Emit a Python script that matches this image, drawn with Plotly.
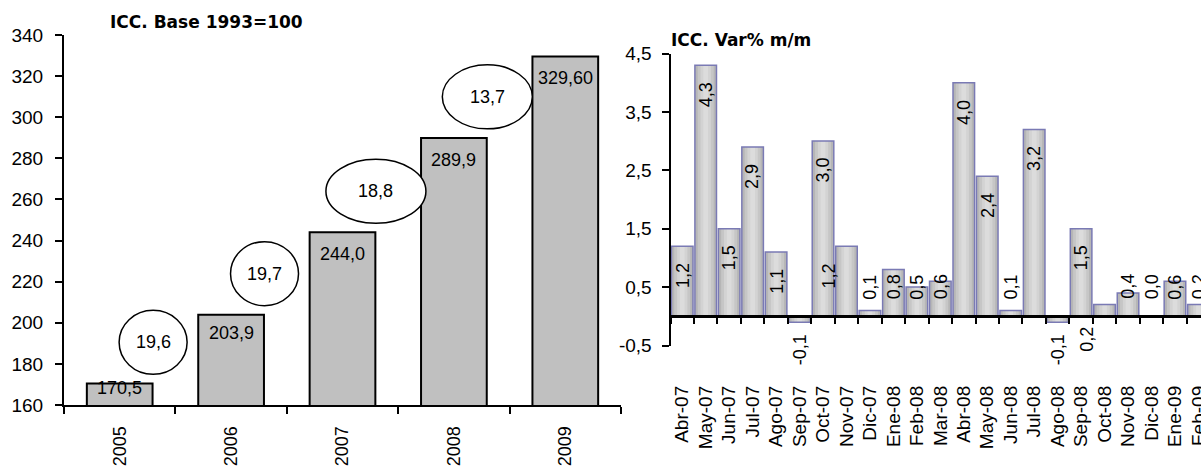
import plotly.graph_objects as go

# ---------------- data ----------------
years = ["2005", "2006", "2007", "2008", "2009"]
icc_index = [170.5, 203.9, 244.0, 289.9, 329.6]
icc_index_labels = ["170,5", "203,9", "244,0", "289,9", "329,60"]
growth_pct_labels = ["19,6", "19,7", "18,8", "13,7"]

months = ["Abr-07", "May-07", "Jun-07", "Jul-07", "Ago-07", "Sep-07", "Oct-07",
          "Nov-07", "Dic-07", "Ene-08", "Feb-08", "Mar-08", "Abr-08", "May-08",
          "Jun-08", "Jul-08", "Ago-08", "Sep-08", "Oct-08", "Nov-08", "Dic-08",
          "Ene-09", "Feb-09"]
var_mm = [1.2, 4.3, 1.5, 2.9, 1.1, -0.1, 3.0, 1.2, 0.1, 0.8, 0.5, 0.6, 4.0, 2.4,
          0.1, 3.2, -0.1, 1.5, 0.2, 0.4, 0.0, 0.6, 0.2]
# in the original some labels are drawn one category to the left
displaced_labels = {"Nov-07": ("Oct-07", "inside"), "Oct-08": ("Sep-08", "below")}

left_ticks = list(range(160, 341, 20))
right_ticks = [-0.5, 0.5, 1.5, 2.5, 3.5, 4.5]

# ---------------- layout constants ----------------
W, H = 1201, 468
LX = [64 / W, 621 / W]
LY = [(H - 405) / H, (H - 35) / H]
RX = [670.5 / W, 1.0]
RY = [(H - 345.5) / H, (H - 53.5) / H]
R_RANGE = [-0.5, 22.11]
zero_frac = RY[0] + (0 - right_ticks[0]) / (right_ticks[-1] - right_ticks[0]) * (RY[1] - RY[0])
NUM = "Liberation Sans"
TITLE = "DejaVu Sans"
BUBBLE_OFFSET = 20  # bubble sits this many index points above the earlier bar


def fmt(v, d=1):
    return f"{v:.{d}f}".replace(".", ",")


fig = go.Figure()

# ---- left chart ----
fig.add_trace(go.Bar(x=years, y=icc_index, xaxis="x", yaxis="y", width=0.59,
                     marker=dict(color="#c0c0c0", line=dict(color="black", width=2)),
                     hoverinfo="skip"))

ppu_left = (LY[1] - LY[0]) * H / (left_ticks[-1] - left_ticks[0])
annotations = []
for i, (v, t) in enumerate(zip(icc_index, icc_index_labels)):
    shift = min(22, 0.2 * (v - left_ticks[0]) * ppu_left)
    annotations.append(dict(x=i, y=v, xref="x", yref="y", text=t, showarrow=False,
                            yanchor="middle", yshift=-shift,
                            font=dict(family=NUM, size=18, color="black")))

shapes = []
bubble_w = [68, 68, 100, 90]
for i, t in enumerate(growth_pct_labels):
    cx = i + 0.3
    cy = icc_index[i] + BUBBLE_OFFSET
    shapes.append(dict(type="circle", xref="x", yref="y", xsizemode="pixel", ysizemode="pixel",
                       xanchor=cx, yanchor=cy, x0=-bubble_w[i] / 2, x1=bubble_w[i] / 2,
                       y0=-32, y1=32, line=dict(color="black", width=1.5), fillcolor="white",
                       layer="above"))
    annotations.append(dict(x=cx, y=cy, xref="x", yref="y", text=t, showarrow=False,
                            font=dict(family=NUM, size=18, color="black")))

# ---- right chart ----
layers = [(0.92, "#b6b6b6"), (0.68, "#c6c6c6"), (0.44, "#d3d3d3"), (0.2, "#dcdcdc")]
for w, c in layers:
    fig.add_trace(go.Bar(x=months, y=var_mm, xaxis="x2", yaxis="y2", width=w,
                         marker=dict(color=c, line=dict(width=0)), hoverinfo="skip"))
fig.add_trace(go.Bar(x=months, y=var_mm, xaxis="x2", yaxis="y2", width=0.92,
                     marker=dict(color="rgba(0,0,0,0)", line=dict(color="#7a7ab4", width=1.5)),
                     hoverinfo="skip"))
# helper trace carrying the zero-line axis
fig.add_trace(go.Scatter(x=[R_RANGE[0], R_RANGE[1]], y=[0, 0], xaxis="x3", yaxis="y2",
                         mode="lines", line=dict(width=0), hoverinfo="skip"))

for m, v in zip(months, var_mm):
    txt = fmt(v)
    xpos = months.index(m)
    if m in displaced_labels:
        target, mode = displaced_labels[m]
        xpos = months.index(target) + 0.25
        if mode == "inside":
            y, ya, ys = v, "top", -15
        else:
            y, ya, ys = 0, "top", -8
    elif v < 0:
        y, ya, ys = v, "top", -10
    elif v < 1.0:
        y, ya, ys = 0, "bottom", 15
    else:
        y, ya, ys = v, "top", -15
    annotations.append(dict(x=xpos, y=y, xref="x2", yref="y2", text=txt, showarrow=False,
                            textangle=-90, yanchor=ya, yshift=ys,
                            font=dict(family=NUM, size=18, color="black")))

# titles
annotations.append(dict(x=206 / W, y=1 - 22 / H, xref="paper", yref="paper",
                        text="<b>ICC. Base 1993=100</b>", showarrow=False,
                        xanchor="center", yanchor="middle",
                        font=dict(family=TITLE, size=17, color="black")))
annotations.append(dict(x=669 / W, y=1 - 40 / H, xref="paper", yref="paper",
                        text="<b>ICC. Var% m/m</b>", showarrow=False,
                        xanchor="left", yanchor="middle",
                        font=dict(family=TITLE, size=17, color="black")))

fig.update_layout(
    width=W, height=H, margin=dict(l=0, r=0, t=0, b=0, pad=0, autoexpand=False),
    paper_bgcolor="white", plot_bgcolor="white", showlegend=False,
    barmode="overlay",
    xaxis=dict(domain=LX, anchor="y", type="category", tickson="boundaries",
               ticks="outside", ticklen=7, tickwidth=1.5, tickcolor="black",
               showline=True, linecolor="black", linewidth=2, tickangle=-90,
               tickfont=dict(family=NUM, size=18, color="black"), ticklabelstandoff=12,
               showgrid=False, zeroline=False, range=[-0.5, 4.5], automargin=False),
    yaxis=dict(domain=LY, anchor="x", range=[left_ticks[0], left_ticks[-1]],
               tickvals=left_ticks, ticks="outside", ticklen=7, tickwidth=1.5,
               tickcolor="black", showline=True, linecolor="black", linewidth=2,
               tickfont=dict(family=NUM, size=19, color="black"), ticklabelstandoff=8,
               showgrid=False, zeroline=False, automargin=False),
    xaxis2=dict(domain=RX, anchor="free", position=(H - 381) / H, type="category",
                range=R_RANGE, dtick=1, ticks="", showline=False, tickangle=-90,
                tickfont=dict(family=NUM, size=19, color="black"),
                showgrid=False, zeroline=False, automargin=False),
    xaxis3=dict(overlaying="x2", anchor="free", position=zero_frac, type="linear",
                range=R_RANGE, tickvals=[k - 0.5 for k in range(len(months) + 1)],
                ticks="outside", ticklen=6, tickwidth=1.5, tickcolor="black",
                showline=True, linecolor="black", linewidth=3, showticklabels=False,
                showgrid=False, zeroline=False, automargin=False),
    yaxis2=dict(domain=RY, anchor="x2", range=[right_ticks[0], right_ticks[-1]],
                tickvals=right_ticks, ticktext=[fmt(t) for t in right_ticks],
                ticks="outside", ticklen=7, tickwidth=1.5, tickcolor="black",
                showline=True, linecolor="black", linewidth=2,
                tickfont=dict(family=NUM, size=19, color="black"), ticklabelstandoff=6,
                showgrid=False, zeroline=False, automargin=False),
    shapes=shapes, annotations=annotations,
)

fig.write_html("out.html")
